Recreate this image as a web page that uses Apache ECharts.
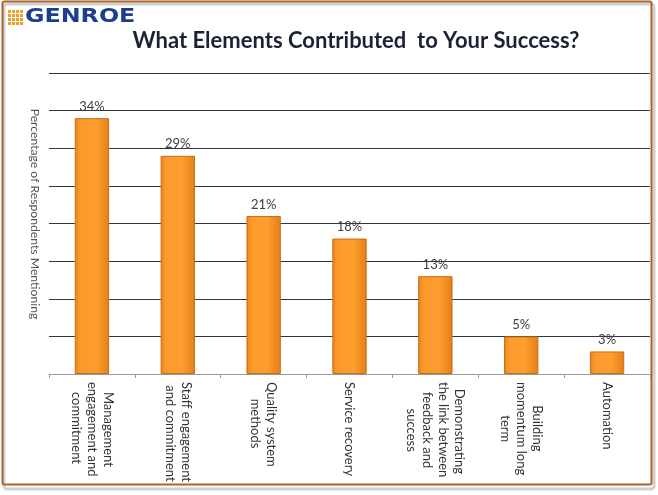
<!DOCTYPE html>
<html>
<head>
<meta charset="utf-8">
<script src="https://cdn.jsdelivr.net/npm/echarts@6/dist/echarts.min.js"></script>
<style>
html,body{margin:0;padding:0;background:#fff;}
#chart{width:658px;height:495px;}
</style>
</head>
<body>
<div id="chart"></div>
<script>
const categories = [
  'Management\nengagement and\ncommitment',
  'Staff engagement\nand commitment',
  'Quality system\nmethods',
  'Service recovery',
  'Demonstrating\nthe link between\nfeedback and\nsuccess',
  'Building\nmomentum long\nterm',
  'Automation'
];
const values = [34, 29, 21, 18, 13, 5, 3];
const titleText = 'What Elements Contributed  to Your Success?';
const yAxisTitle = 'Percentage of Respondents Mentioning';
const logoText = 'GENROE';

const labelFont = 'Lato';
const labelSize = 13;

// Centre the lines of each category label on each other (pad shorter lines with no-break spaces).
function textWidth(s) {
  const t = new echarts.graphic.Text({style: {text: s, fontFamily: labelFont, fontSize: labelSize}});
  let w = t.getBoundingRect().width;
  if (!w) {
    const ctx = document.createElement('canvas').getContext('2d');
    ctx.font = labelSize + 'px ' + labelFont;
    w = ctx.measureText(s).width;
  }
  if (!w) w = s.length * labelSize * 0.5;
  return w;
}
const NBSP = '\u00a0';
const spaceW = textWidth('x' + NBSP.repeat(10) + 'x') - textWidth('xx');
const unit = spaceW > 0 ? spaceW / 10 : labelSize * 0.25;
const paddedCategories = categories.map(function (cat) {
  const lines = cat.split('\n');
  const widths = lines.map(textWidth);
  const maxW = Math.max.apply(null, widths);
  return lines.map(function (l, j) {
    const n = Math.max(0, Math.round((maxW - widths[j]) / 2 / unit));
    return NBSP.repeat(n) + l;
  }).join('\n');
});

const chart = echarts.init(document.getElementById('chart'), null, {renderer: 'canvas'});

const logoSquares = [];
for (let r = 0; r < 4; r++) {
  for (let c = 0; c < 4; c++) {
    logoSquares.push({
      type: 'rect',
      shape: {x: 8 + c * 4, y: 10 + r * 4, width: 3, height: 3},
      style: {fill: '#f0a020'},
      silent: true
    });
  }
}

const option = {
  backgroundColor: '#ffffff',
  animation: false,
  title: {
    text: titleText,
    left: 351,
    top: 25,
    textAlign: 'center',
    textStyle: {fontFamily: 'Lato', fontWeight: 'bold', fontSize: 22, color: '#1b2235'}
  },
  grid: {left: 49, right: 8, top: 73, bottom: 121, containLabel: false},
  xAxis: {
    type: 'category',
    data: paddedCategories,
    axisLine: {show: true, lineStyle: {color: '#9a9a9a', width: 1}},
    axisTick: {show: true, length: 4, lineStyle: {color: '#9a9a9a'}},
    axisLabel: {
      interval: 0,
      rotate: -90,
      margin: 8,
      fontFamily: labelFont,
      fontSize: labelSize,
      lineHeight: 16,
      color: '#333333'
    }
  },
  yAxis: {
    type: 'value',
    min: 0,
    max: 40,
    interval: 5,
    axisLine: {show: false},
    axisTick: {show: false},
    axisLabel: {show: false},
    splitLine: {show: true, lineStyle: {color: '#2a3650', width: 1.2}}
  },
  series: [{
    type: 'bar',
    data: values,
    barWidth: '40%',
    itemStyle: {
      color: new echarts.graphic.LinearGradient(0, 0, 1, 0, [
        {offset: 0, color: '#e8841a'},
        {offset: 0.15, color: '#fb9a2c'},
        {offset: 0.6, color: '#ff9f30'},
        {offset: 1, color: '#e37f18'}
      ]),
      borderColor: '#c86d14',
      borderWidth: 1
    },
    label: {
      show: true,
      position: 'top',
      distance: 5,
      formatter: '{c}%',
      fontFamily: 'Lato',
      fontSize: 13,
      color: '#404040'
    }
  }],
  graphic: [
    {
      type: 'rect',
      shape: {x: 4, y: 4, width: 650, height: 485, r: 3},
      style: {fill: 'none', stroke: 'rgba(0,0,0,0.18)', lineWidth: 3},
      silent: true, z: -1
    },
    {
      type: 'rect',
      shape: {x: 2.5, y: 1.5, width: 649, height: 483, r: 2},
      style: {fill: 'none', stroke: '#a8642c', lineWidth: 2},
      silent: true
    },
    ...logoSquares,
    {
      type: 'text',
      x: 25, y: 8,
      scaleX: 1.25,
      style: {text: logoText, fontFamily: 'DejaVu Sans', fontWeight: 'bold', fontSize: 19, fill: '#1f3d8f'},
      silent: true
    },
    {
      type: 'text',
      x: 35, y: 214,
      rotation: -Math.PI / 2,
      style: {
        text: yAxisTitle, fontFamily: 'Lato', fontSize: 12.2, fill: '#555555',
        align: 'center', verticalAlign: 'middle'
      },
      silent: true
    }
  ]
};
chart.setOption(option);
</script>
</body>
</html>
